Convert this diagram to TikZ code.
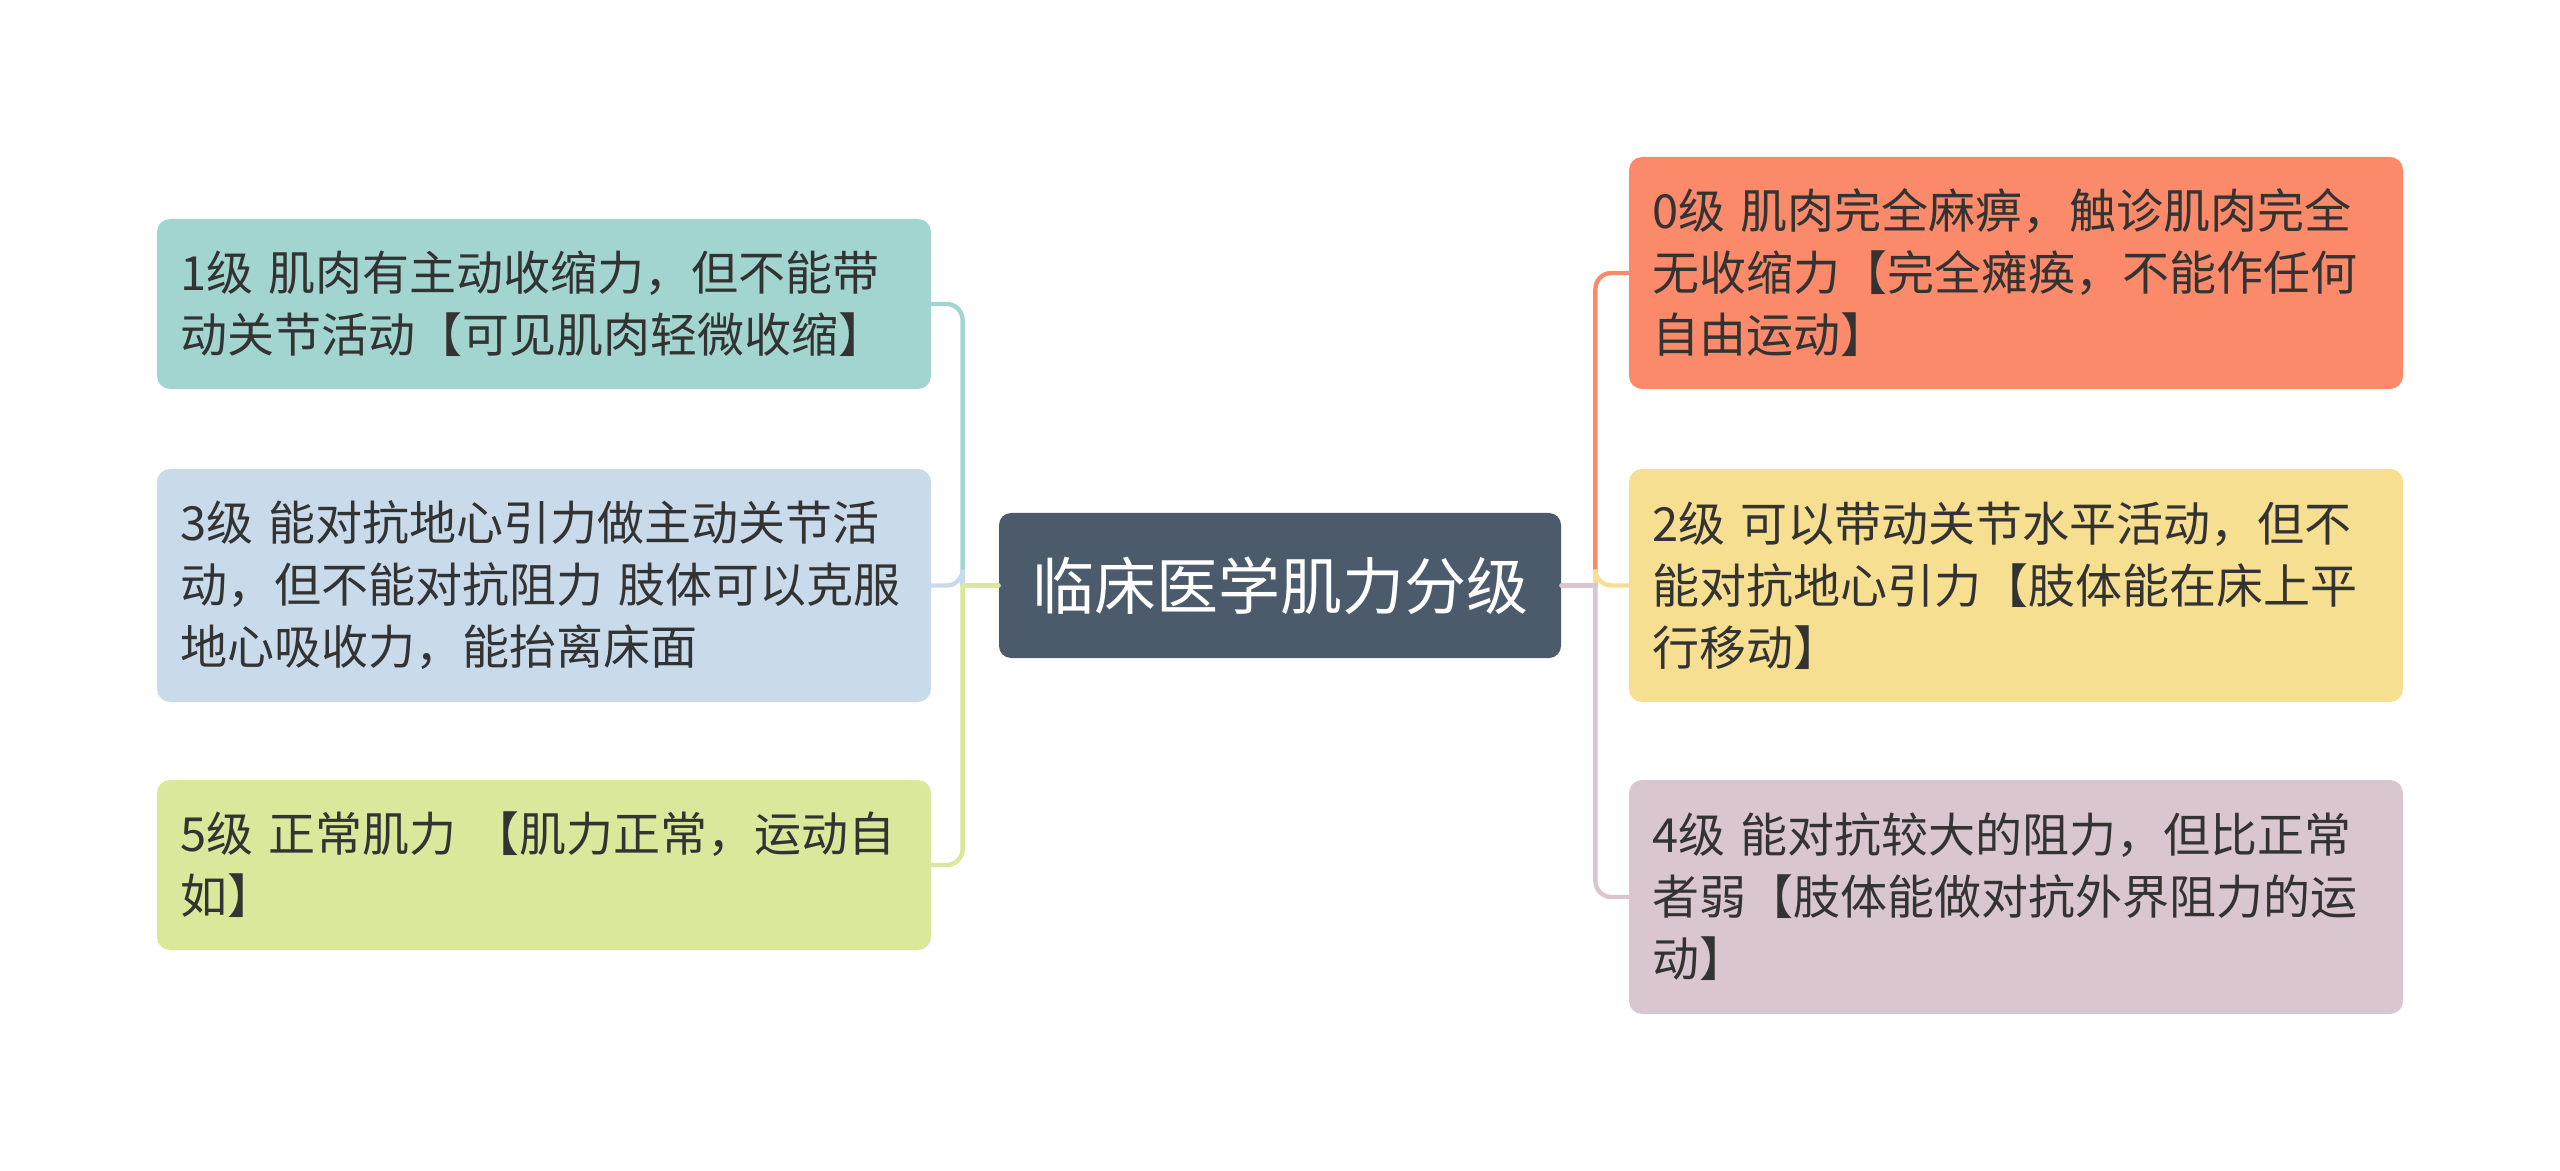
\documentclass[tikz,border=0pt]{standalone}
\usepackage{fontspec}
\usepackage{tikz}
\usetikzlibrary{positioning, calc}
\newfontfamily\cjk{Noto Sans CJK SC}

\definecolor{rootfill}{HTML}{4B5B6B}
\definecolor{leaftext}{HTML}{333333}
\definecolor{tealbox}{HTML}{A3D5D0}
\definecolor{bluebox}{HTML}{C9DBEB}
\definecolor{greenbox}{HTML}{D9E89B}
\definecolor{orangebox}{HTML}{FA8A6A}
\definecolor{yellowbox}{HTML}{F7DF91}
\definecolor{mauvebox}{HTML}{D9C6D0}

\tikzset{
  root/.style={rounded corners=6pt, fill=rootfill, text=white,
    font=\cjk\fontsize{31}{37}\selectfont, minimum width=281pt,
    minimum height=72.5pt, inner sep=0pt},
  leaf/.style={rounded corners=6.5pt, text=leaftext,
    font=\cjk\fontsize{23.5}{31}\selectfont, text width=364pt,
    align=left, inner xsep=11.5pt, inner ysep=0pt},
  link/.style={line width=2.2pt, line cap=round},
}

\begin{document}
\begin{tikzpicture}[x=0.5pt, y=-0.5pt]
\useasboundingbox (0,0) rectangle (2560,1171);
% Root
\node[root] (root) at (1280,585.5) {临床医学肌力分级};
% Left branch
\node[leaf, fill=tealbox, minimum height=85pt] (g1) at (544,304)
  {1级~肌肉有主动收缩力，但不能带\\动关节活动【可见肌肉轻微收缩】};
\node[leaf, fill=bluebox, minimum height=116.5pt] (g3) at (544,585.5)
  {3级~能对抗地心引力做主动关节活\\动，但不能对抗阻力~肢体可以克服\\地心吸收力，能抬离床面};
\node[leaf, fill=greenbox, minimum height=85pt] (g5) at (544,865)
  {5级~正常肌力~【肌力正常，运动自\\如】};
% Right branch
\node[leaf, fill=orangebox, minimum height=116pt] (g0) at (2016,273)
  {0级~肌肉完全麻痹，触诊肌肉完全\\无收缩力【完全瘫痪，不能作任何\\自由运动】};
\node[leaf, fill=yellowbox, minimum height=116.5pt] (g2) at (2016,585.5)
  {2级~可以带动关节水平活动，但不\\能对抗地心引力【肢体能在床上平\\行移动】};
\node[leaf, fill=mauvebox, minimum height=117pt] (g4) at (2016,897)
  {4级~能对抗较大的阻力，但比正常\\者弱【肢体能做对抗外界阻力的运\\动】};
% Connectors
\coordinate (ljoin) at ([xshift=-18pt]root.west);
\coordinate (rjoin) at ([xshift=17pt]root.east);
\foreach \n/\c in {g1/tealbox, g3/bluebox, g5/greenbox}
  \draw[link, \c, rounded corners=8pt] (ljoin) |- (\n.east);
\draw[link, greenbox] (root.west) -- (ljoin);
\foreach \n/\c in {g0/orangebox, g2/yellowbox, g4/mauvebox}
  \draw[link, \c, rounded corners=8pt] (rjoin) |- (\n.west);
\draw[link, mauvebox] (root.east) -- (rjoin);
\end{tikzpicture}
\end{document}
